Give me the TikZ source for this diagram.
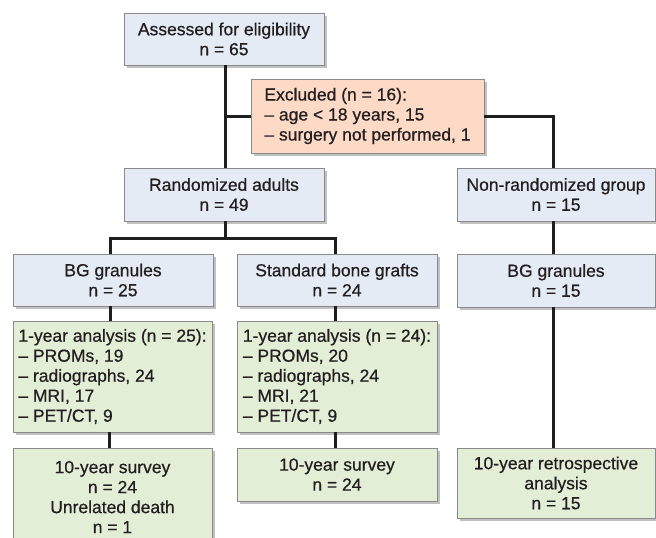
\documentclass[tikz,border=0pt]{standalone}
\usepackage{fontspec}
\setmainfont{Liberation Sans}[BoldFont={Liberation Sans}, BoldFeatures={FakeBold=0.6}]
\usetikzlibrary{shadows}
\definecolor{bluef}{HTML}{E4EBF5}
\definecolor{salmonf}{HTML}{FCDAC6}
\definecolor{greenf}{HTML}{E3EED7}
\definecolor{edgec}{HTML}{8A8A8A}
\definecolor{linec}{HTML}{1E1E1E}
\definecolor{textc}{HTML}{231F20}
\begin{document}
\begin{tikzpicture}[x=1pt,y=-1pt,
  box/.style={draw=edgec, line width=0.8pt, inner sep=0pt, align=center, text=textc,
    font=\fontsize{17.5}{20}\selectfont\bfseries,
    drop shadow={shadow xshift=2.5pt, shadow yshift=-3pt, opacity=0.35, fill=black!70}},
  bluebox/.style={box, fill=bluef},
  salmonbox/.style={box, fill=salmonf},
  greenbox/.style={box, fill=greenf},
  conn/.style={line width=3pt, draw=linec}
]
\useasboundingbox (0,0) rectangle (656,538);

\node[bluebox, minimum width=200pt, minimum height=52pt] (assess) at (224,39) {Assessed for eligibility\\n = 65};
\node[salmonbox, align=left, minimum width=233pt, minimum height=74pt] (excl) at (367.5,116) {Excluded (n = 16):\\– age < 18 years, 15\\– surgery not performed, 1};
\node[bluebox, minimum width=200pt, minimum height=53pt] (rand) at (224,194.5) {Randomized adults\\n = 49};
\node[bluebox, minimum width=198pt, minimum height=53pt] (nonr) at (556,194.5) {Non-randomized group\\n = 15};

\node[bluebox, minimum width=200pt, minimum height=52pt] (bg1) at (113,280) {BG granules\\n = 25};
\node[bluebox, minimum width=200pt, minimum height=52pt] (sbg) at (337,280) {Standard bone grafts\\n = 24};
\node[bluebox, minimum width=198pt, minimum height=53pt] (bg2) at (556,280.5) {BG granules\\n = 15};

\node[greenbox, align=left, minimum width=199pt, minimum height=111pt] (y1a) at (112.5,376.5) {1-year analysis (n = 25):\\– PROMs, 19\\– radiographs, 24\\– MRI, 17\\– PET/CT, 9};
\node[greenbox, align=left, minimum width=200pt, minimum height=111pt] (y1b) at (337,376.5) {1-year analysis (n = 24):\\– PROMs, 20\\– radiographs, 24\\– MRI, 21\\– PET/CT, 9};

\node[greenbox, minimum width=199pt, minimum height=98pt] (s10a) at (112.5,497) {10-year survey\\n = 24\\Unrelated death\\n = 1};
\node[greenbox, minimum width=200pt, minimum height=53pt] (s10b) at (337,474.5) {10-year survey\\n = 24};
\node[greenbox, minimum width=198pt, minimum height=70pt] (retro) at (556,483) {10-year retrospective\\analysis\\n = 15};

% connectors
\draw[conn] ([xshift=1pt]assess.south) -- ([xshift=1pt]rand.north);
\draw[conn] ([xshift=1pt]assess.south |- excl.west) -- (excl.west);
\draw[conn] (excl.east) -| ([xshift=-3pt]nonr.north);
\coordinate (split) at (225,238.5);
\draw[conn] ([xshift=1pt]rand.south) -- (split);
\draw[conn] ([xshift=-3pt]bg1.north) |- (split) -| ([xshift=-2pt]sbg.north);
\draw[conn] ([xshift=-3pt]nonr.south) -- ([xshift=-3pt]bg2.north);
\draw[conn] ([xshift=-3pt]bg1.south) -- ([xshift=-3pt]bg1.south |- y1a.north);
\draw[conn] ([xshift=-2pt]sbg.south) -- ([xshift=-2pt]sbg.south |- y1b.north);
\draw[conn] ([xshift=-3pt]y1a.south) -- ([xshift=-3pt]y1a.south |- s10a.north);
\draw[conn] ([xshift=-2pt]y1b.south) -- ([xshift=-2pt]y1b.south |- s10b.north);
\draw[conn] ([xshift=-3pt]bg2.south) -- ([xshift=-3pt]retro.north);
\end{tikzpicture}
\end{document}
